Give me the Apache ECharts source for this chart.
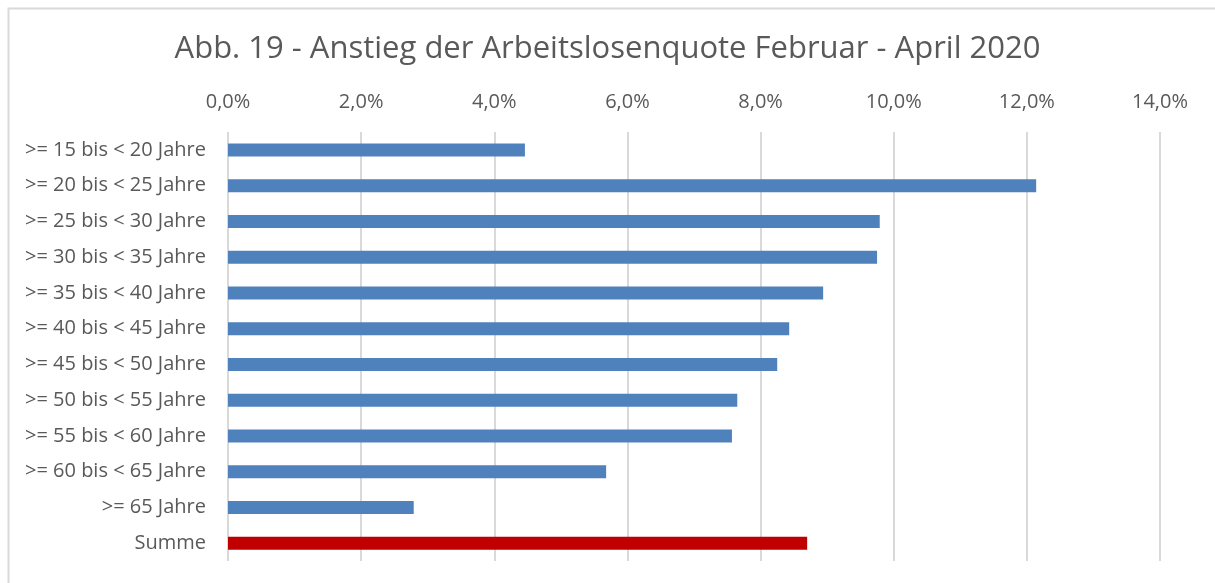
<!DOCTYPE html>
<html>
<head>
<meta charset="utf-8">
<script src="https://cdn.jsdelivr.net/npm/echarts@6/dist/echarts.min.js"></script>
<style>
  html, body { margin: 0; padding: 0; background: #fff; }
  #chart { width: 1215px; height: 583px; }
</style>
</head>
<body>
<div id="chart"></div>
<script>
const categories = [
  '>= 15 bis < 20 Jahre', '>= 20 bis < 25 Jahre', '>= 25 bis < 30 Jahre',
  '>= 30 bis < 35 Jahre', '>= 35 bis < 40 Jahre', '>= 40 bis < 45 Jahre',
  '>= 45 bis < 50 Jahre', '>= 50 bis < 55 Jahre', '>= 55 bis < 60 Jahre',
  '>= 60 bis < 65 Jahre', '>= 65 Jahre', 'Summe',
];
// Anstieg in Prozent
const values = [4.46, 12.14, 9.79, 9.75, 8.94, 8.43, 8.25, 7.65, 7.57, 5.68, 2.79, 8.70];
const xTicks = [0, 2, 4, 6, 8, 10, 12, 14];

const BLUE = '#4f81bd';
const RED = '#c00000';
const TEXT = '#595959';
const FONT = 'Open Sans';

const chart = echarts.init(document.getElementById('chart'));

chart.setOption({
  animation: false,
  backgroundColor: '#fff',
  title: {
    text: 'Abb. 19 - Anstieg der Arbeitslosenquote Februar - April 2020',
    left: 'center', top: 29,
    textStyle: { fontFamily: FONT, fontSize: 31, fontWeight: 'normal', color: TEXT },
  },
  graphic: [{
    type: 'rect', left: 6, top: 6,
    shape: { width: 1240, height: 620 },
    style: { fill: 'none', stroke: '#d9d9d9', lineWidth: 2 },
    silent: true,
  }],
  grid: { left: 228, right: 55, top: 132, bottom: 22 },
  xAxis: {
    type: 'value', position: 'top',
    min: xTicks[0], max: xTicks[xTicks.length - 1], interval: 2,
    axisLine: { show: false }, axisTick: { show: false },
    axisLabel: {
      fontFamily: FONT, fontSize: 20, color: TEXT, margin: 20,
      formatter: v => v.toFixed(1).replace('.', ',') + '%',
    },
    splitLine: { lineStyle: { color: '#d9d9d9', width: 2 } },
  },
  yAxis: {
    type: 'category', data: categories, inverse: true,
    axisLine: { show: false }, axisTick: { show: false },
    axisLabel: { fontFamily: FONT, fontSize: 20, color: TEXT, margin: 22 },
  },
  series: [{
    type: 'bar', barWidth: 13,
    data: values.map((v, i) => ({
      value: v,
      itemStyle: { color: categories[i] === 'Summe' ? RED : BLUE },
    })),
  }],
});
</script>
</body>
</html>
